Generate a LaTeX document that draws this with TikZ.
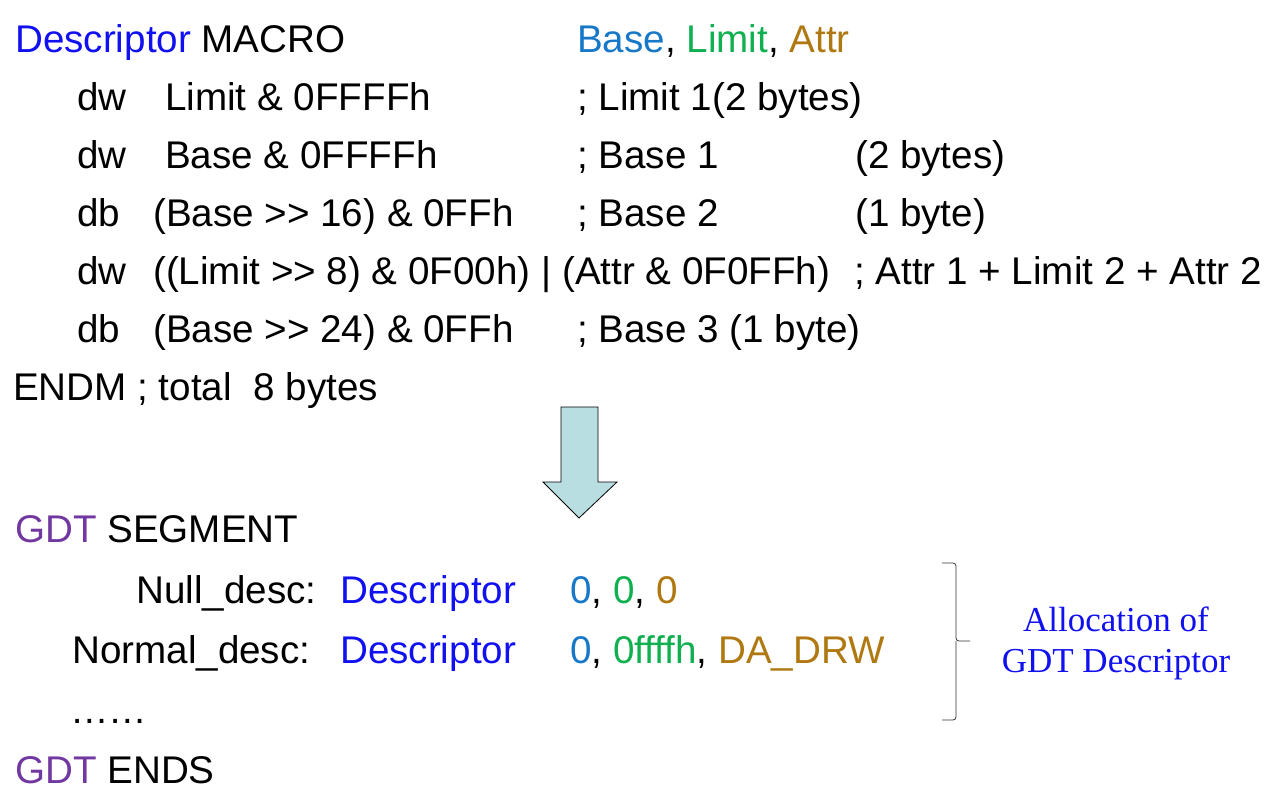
\documentclass[tikz,border=0pt]{standalone}
\usepackage{fontspec}
\setmainfont{Liberation Sans}
\newfontfamily\notefont{Liberation Serif}
\usetikzlibrary{positioning}

\definecolor{descblue}{HTML}{1010F0}
\definecolor{baseblue}{HTML}{1878C8}
\definecolor{limitgreen}{HTML}{10B050}
\definecolor{attrbrown}{HTML}{B07810}
\definecolor{gdtpurple}{HTML}{7038A0}
\definecolor{arrowfill}{HTML}{B8DEE2}

\begin{document}
\begin{tikzpicture}[
            x=1pt, y=-1pt,
            code/.style={anchor=base west, inner sep=0pt, font=\fontsize{38.6}{38.6}\selectfont},
            note/.style={anchor=base, inner sep=0pt, text=descblue, font=\notefont\fontsize{35}{35}\selectfont}
            ]
            \useasboundingbox (0,0) rectangle (1277,795);

            % macro definition
            \node [code] (head) at (15,52) {\textcolor{descblue}{Descriptor} MACRO};
            \node [code] (params) at (577,52) {\textcolor{baseblue}{Base}, \textcolor{limitgreen}{Limit}, \textcolor{attrbrown}{Attr}};

            \node [code] (op1) at (77,110) {dw};
            \node [code] (arg1) at (165,110) {Limit \& 0FFFFh};
            \node [code] (cm1) at (577,110) {; Limit 1(2 bytes)};

            \node [code] (op2) at (77,168) {dw};
            \node [code] (arg2) at (165,168) {Base \& 0FFFFh};
            \node [code] (cm2) at (577,168) {; Base 1};
            \node [code] (sz2) at (855,168) {(2 bytes)};

            \node [code] (op3) at (77,226) {db};
            \node [code] (arg3) at (153,226) {(Base {>}{>} 16) \& 0FFh};
            \node [code] (cm3) at (577,226) {; Base 2};
            \node [code] (sz3) at (855,226) {(1 byte)};

            \node [code] (op4) at (77,284) {dw};
            \node [code] (arg4) at (153,284) {((Limit {>}{>} 8) \& 0F00h) | (Attr \& 0F0FFh)};
            \node [code] (cm4) at (854,284) {; Attr 1 + Limit 2 + Attr 2};

            \node [code] (op5) at (77,342) {db};
            \node [code] (arg5) at (153,342) {(Base {>}{>} 24) \& 0FFh};
            \node [code] (cm5) at (577,342) {; Base 3 (1 byte)};

            \node [code] (endm) at (13,400) {ENDM ; total\ \ 8 bytes};

            % big arrow
            \draw [fill=arrowfill, line join=miter, thick]
                (561,407) -- (598,407) -- (598,482) -- (617,482) -- (579,518)
                -- (543,482) -- (561,482) -- cycle;

            % gdt segment
            \node [code] (seg) at (15,542) {\textcolor{gdtpurple}{GDT} SEGMENT};
            \node [code] (nulllbl) at (136,603) {Null\_desc:};
            \node [code] (nullmac) at (340,603) {\textcolor{descblue}{Descriptor}};
            \node [code] (nullval) at (570,603) {\textcolor{baseblue}{0}, \textcolor{limitgreen}{0}, \textcolor{attrbrown}{0}};
            \node [code] (normlbl) at (72,663) {Normal\_desc:};
            \node [code] (normmac) at (340,663) {\textcolor{descblue}{Descriptor}};
            \node [code] (normval) at (570,663) {\textcolor{baseblue}{0}, \textcolor{limitgreen}{0ffffh}, \textcolor{attrbrown}{DA\_DRW}};
            \node [code] (more) at (70,723) {……};
            \node [code] (ends) at (15,783) {\textcolor{gdtpurple}{GDT} ENDS};

            % brace and note
            \draw [thick, black!80, rounded corners=3pt]
                (942,563) -- (956,563) -- (956,641) -- (970,641)
                (956,641) -- (956,720) -- (942,720);
            \node [note] (alloc1) at (1116,631) {Allocation of};
            \node [note] (alloc2) at (1116,672) {GDT Descriptor};
        \end{tikzpicture}
\end{document}
